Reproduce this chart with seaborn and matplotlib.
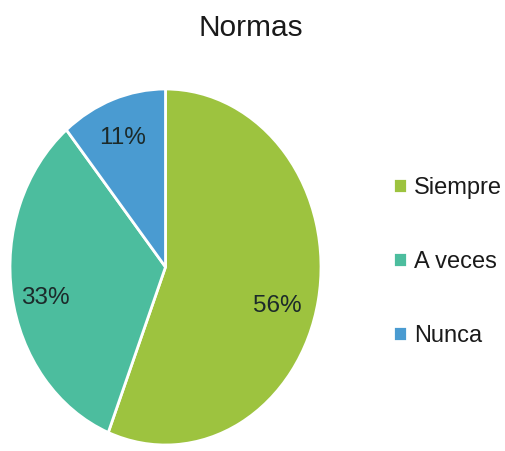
import matplotlib
matplotlib.use("Agg")
import matplotlib.pyplot as plt
import seaborn as sns

sns.set_theme(style="white")
plt.rcParams["font.family"] = ["Liberation Sans", "DejaVu Sans"]

# ── data ─────────────────────────────────────────────────────────────────────
categories = ["Siempre", "A veces", "Nunca"]
shares = [56, 33, 11]
colors = ["#9dc33f", "#4cbd9e", "#4a9bd1"]

# where Excel put the percentage labels (fractions of the pie radius)
label_offsets = [(0.72, -0.22), (-0.775, -0.175), (-0.275, 0.725)]

# ── figure ───────────────────────────────────────────────────────────────────
fig = plt.figure(figsize=(5.05, 4.51), dpi=100)
fig.patch.set_facecolor("white")

# pie box in pixels: x 10..321, y 89..445 (image is stretched vertically)
ax = fig.add_axes([10 / 505, (451 - 445) / 451, 311 / 505, 356 / 451])

wedges, texts, autotexts = ax.pie(
    shares,
    colors=colors,
    startangle=90,
    counterclock=False,
    autopct=lambda p: f"{p:.0f}%",
    pctdistance=0.77,
    wedgeprops=dict(edgecolor="white", linewidth=2),
    textprops=dict(fontsize=17.5, color="#1c2a2a"),
)
for t, pos in zip(autotexts, label_offsets):
    t.set_position(pos)

ax.set_aspect("auto")
ax.set_xlim(-1.0, 1.0)
ax.set_ylim(-1.0, 1.0)
ax.axis("off")

fig.text(251 / 505, 1 - 28 / 451, "Normas", ha="center", va="center",
         fontsize=21.5, color="#1a1a1a")

fig.legend(
    wedges, categories,
    loc="center left",
    bbox_to_anchor=(393 / 505, 1 - 262 / 451),
    frameon=False,
    borderpad=0,
    borderaxespad=0,
    fontsize=17,
    handlelength=0.6,
    handleheight=0.6,
    handletextpad=0.3,
    labelspacing=2.2,
    labelcolor="#1a1a1a",
)

plt.savefig("out.png", dpi=100)
plt.close()
